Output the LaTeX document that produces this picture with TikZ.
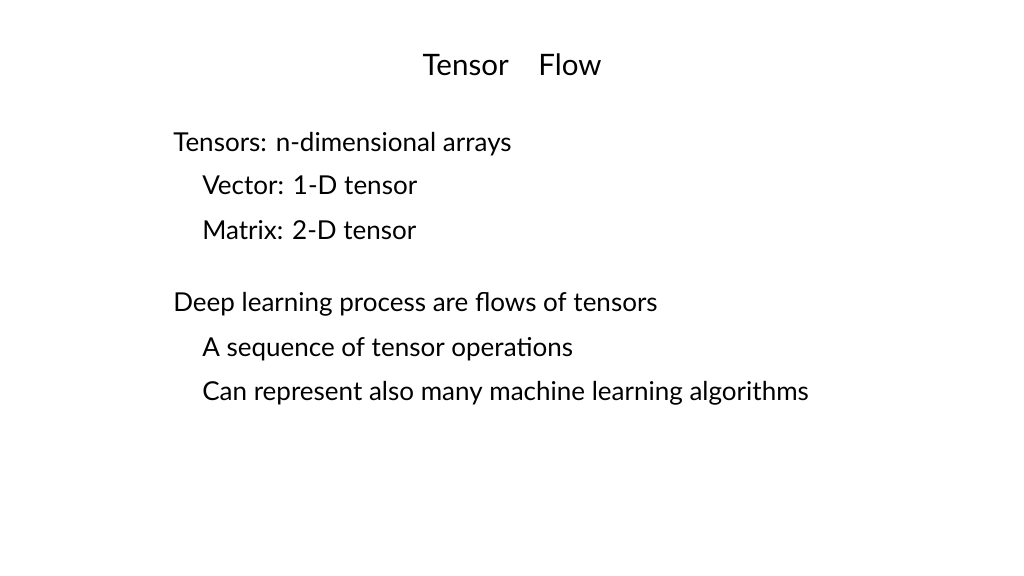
\documentclass[tikz,border=0pt]{standalone}
\usepackage{fontspec}
\setmainfont{Lato}
\begin{document}
\begin{tikzpicture}[x=0.025cm,y=-0.025cm,
  title/.style={font=\fontsize{21}{25}\selectfont,anchor=base},
  item/.style={font=\fontsize{18.5}{22}\selectfont,anchor=base west,inner sep=0pt},
  subitem/.style={item}]
  \useasboundingbox (0,0) rectangle (1024,576);
  \node[title] (ttl) at (512,76) {Tensor\quad Flow};
  % first block
  \node[item] (tens) at (173,152) {Tensors: n-dimensional arrays};
  \node[subitem] (vec) at (202,195) {Vector: 1-D tensor};
  \node[subitem] (mat) at (202,240) {Matrix: 2-D tensor};
  % second block
  \node[item] (deep) at (173,312) {Deep learning process are flows of tensors};
  \node[subitem] (seq) at (202,356) {A sequence of tensor operations};
  \node[subitem] (alg) at (202,400) {Can represent also many machine learning algorithms};
\end{tikzpicture}
\end{document}
